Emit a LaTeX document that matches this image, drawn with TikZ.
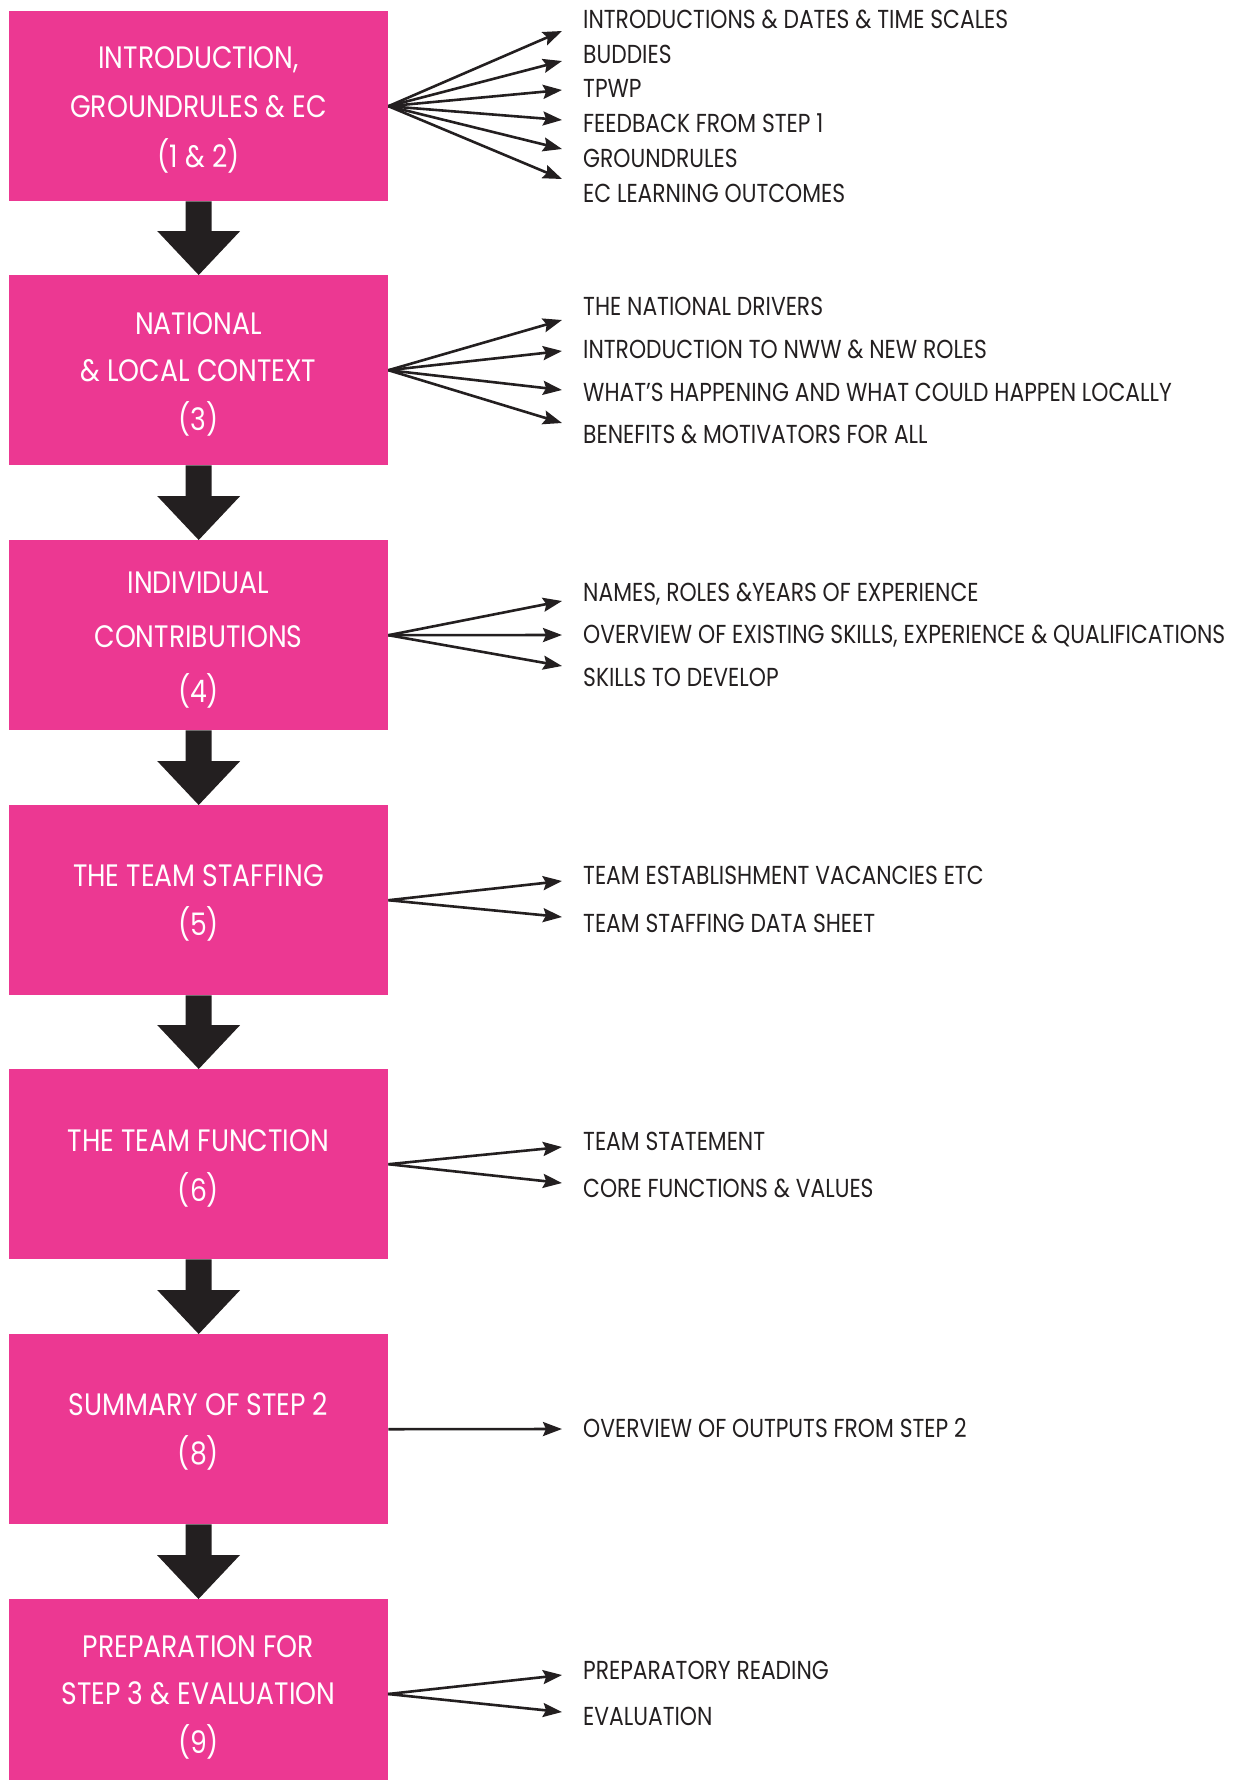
\documentclass[tikz,border=0pt]{standalone}
\usepackage{fontspec}
\setmainfont{Poppins}
\newfontfamily\stagefont[FakeStretch=0.86]{Poppins}
\newfontfamily\itemfont[FakeStretch=0.84]{Poppins}
\usetikzlibrary{arrows.meta,calc}
\definecolor{stagepink}{RGB}{236,56,146}
\definecolor{ink}{RGB}{35,31,32}
\begin{document}
\begin{tikzpicture}[x=1pt,y=-1pt,
  stage/.style={fill=stagepink, minimum width=379pt, minimum height=190pt,
    inner sep=0pt, anchor=north west},
  stagetext/.style={text=white, font=\stagefont\fontsize{31}{33}\selectfont,
    inner sep=0pt, anchor=base},
  itemtext/.style={text=ink, font=\itemfont\fontsize{26}{28}\selectfont,
    inner sep=0pt, anchor=base west},
  fan/.style={draw=ink, line width=2.6pt,
    -{Stealth[length=19pt,width=14pt,inset=3pt]}},
  flow/.style={fill=ink}
]
\useasboundingbox (0,0) rectangle (1243,1780);

% stage boxes
\node[stage] (b1) at (9,11) {};
\node[stage] (b2) at (9,275) {};
\node[stage] (b3) at (9,540) {};
\node[stage] (b4) at (9,805) {};
\node[stage] (b5) at (9,1069) {};
\node[stage] (b6) at (9,1334) {};
\fill[stagepink] (9,1599) rectangle (388,1780);
\coordinate (b7n) at (198.5,1599);
\coordinate (b7e) at (388,1694);

% stage titles (baseline = centre + half cap height)
\node[stagetext] (s11) at (198.5,68.5) {INTRODUCTION,};
\node[stagetext] (s12) at (198.5,117.5) {GROUNDRULES \& EC};
\node[stagetext] (s13) at (198.5,167.5) {(1 \& 2)};
\node[stagetext] (s21) at (198.5,334) {NATIONAL};
\node[stagetext] (s22) at (198.5,381.5) {\& LOCAL CONTEXT};
\node[stagetext] (s23) at (198.5,430.5) {(3)};
\node[stagetext] (s31) at (198.5,593.5) {INDIVIDUAL};
\node[stagetext] (s32) at (198.5,647.5) {CONTRIBUTIONS};
\node[stagetext] (s33) at (198.5,702.5) {(4)};
\node[stagetext] (s41) at (198.5,886.5) {THE TEAM STAFFING};
\node[stagetext] (s42) at (198.5,935.5) {(5)};
\node[stagetext] (s51) at (198.5,1151.5) {THE TEAM FUNCTION};
\node[stagetext] (s52) at (198.5,1201.5) {(6)};
\node[stagetext] (s61) at (198.5,1415.5) {SUMMARY OF STEP 2};
\node[stagetext] (s62) at (198.5,1464.5) {(8)};
\node[stagetext] (s71) at (198.5,1657.5) {PREPARATION FOR};
\node[stagetext] (s72) at (198.5,1704.5) {STEP 3 \& EVALUATION};
\node[stagetext] (s73) at (198.5,1753.5) {(9)};

% block arrows between stages
\foreach \s/\t in {b1/b2,b2/b3,b3/b4,b4/b5,b5/b6}{
  \fill[flow] ($(\s.south)+(-13,0)$) -- ($(\s.south)+(13,0)$)
    -- ($(\t.north)+(13,-44)$) -- ($(\t.north)+(41.5,-44)$) -- (\t.north)
    -- ($(\t.north)+(-41.5,-44)$) -- ($(\t.north)+(-13,-44)$) -- cycle;
}
\fill[flow] ($(b6.south)+(-13,0)$) -- ($(b6.south)+(13,0)$)
  -- ($(b7n)+(13,-44)$) -- ($(b7n)+(41.5,-44)$) -- (b7n)
  -- ($(b7n)+(-41.5,-44)$) -- ($(b7n)+(-13,-44)$) -- cycle;

% topic lists
\node[itemtext] (i11) at (583,28.8) {INTRODUCTIONS \& DATES \& TIME SCALES};
\node[itemtext] (i12) at (583,63.8) {BUDDIES};
\node[itemtext] (i13) at (583,97.8) {TPWP};
\node[itemtext] (i14) at (583,132.3) {FEEDBACK FROM STEP 1};
\node[itemtext] (i15) at (583,167.3) {GROUNDRULES};
\node[itemtext] (i16) at (583,202.3) {EC LEARNING OUTCOMES};

\node[itemtext] (i21) at (583,315.3) {THE NATIONAL DRIVERS};
\node[itemtext] (i22) at (583,358.8) {INTRODUCTION TO NWW \& NEW ROLES};
\node[itemtext] (i23) at (583,401.3) {WHAT’S HAPPENING AND WHAT COULD HAPPEN LOCALLY};
\node[itemtext] (i24) at (583,443.8) {BENEFITS \& MOTIVATORS FOR ALL};

\node[itemtext] (i31) at (583,601.8) {NAMES, ROLES \&YEARS OF EXPERIENCE};
\node[itemtext] (i32) at (583,643.8) {OVERVIEW OF EXISTING SKILLS, EXPERIENCE \& QUALIFICATIONS};
\node[itemtext] (i33) at (583,686.8) {SKILLS TO DEVELOP};

\node[itemtext] (i41) at (583,884.8) {TEAM ESTABLISHMENT VACANCIES ETC};
\node[itemtext] (i42) at (583,932.8) {TEAM STAFFING DATA SHEET};

\node[itemtext] (i51) at (583,1150.3) {TEAM STATEMENT};
\node[itemtext] (i52) at (583,1197.3) {CORE FUNCTIONS \& VALUES};

\node[itemtext] (i61) at (583,1437.8) {OVERVIEW OF OUTPUTS FROM STEP 2};

\node[itemtext] (i71) at (583,1679.8) {PREPARATORY READING};
\node[itemtext] (i72) at (583,1725.8) {EVALUATION};

% arrow tips of the fans
\foreach \n/\y in {11/31,12/61,13/90,14/120,15/149,16/179,
                   21/320,22/351,23/390,24/423,
                   31/601,32/635,33/666,
                   41/881,42/917,
                   51/1147,52/1183,
                   61/1429,
                   71/1675,72/1712}
  \coordinate (t\n) at (562,\y);

% fans from each stage to its topics
\foreach \n in {11,12,13,14,15,16} \draw[fan] (b1.east) -- (t\n);
\foreach \n in {21,22,23,24} \draw[fan] (b2.east) -- (t\n);
\foreach \n in {31,32,33} \draw[fan] (b3.east) -- (t\n);
\foreach \n in {41,42} \draw[fan] (b4.east) -- (t\n);
\foreach \n in {51,52} \draw[fan] (b5.east) -- (t\n);
\draw[fan] (b6.east) -- (t61);
\foreach \n in {71,72} \draw[fan] (b7e) -- (t\n);

\end{tikzpicture}
\end{document}
